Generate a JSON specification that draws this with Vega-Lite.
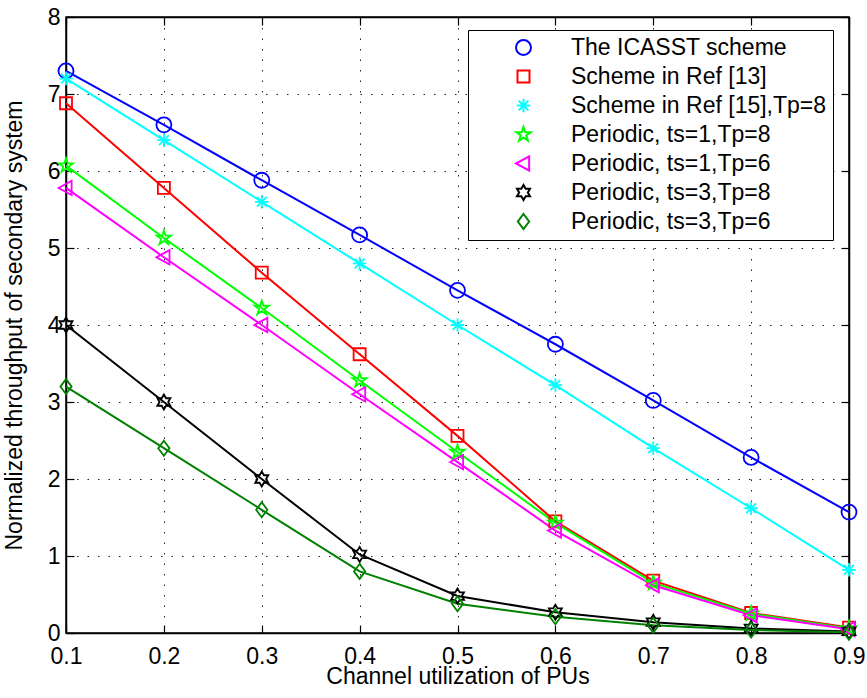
{
  "$schema": "https://vega.github.io/schema/vega-lite/v6.json",
  "width": 783,
  "height": 616,
  "autosize": "none",
  "padding": {"left": 66, "top": 17, "right": 18, "bottom": 65},
  "background": "white",
  "config": {
    "font": "Liberation Sans",
    "view": {"stroke": "black", "strokeWidth": 1.5},
    "axis": {
      "domainColor": "black",
      "domainWidth": 1.5,
      "tickColor": "black",
      "tickWidth": 1.2,
      "tickSize": -8,
      "labelFont": "Liberation Sans",
      "labelFontSize": 23,
      "labelColor": "black",
      "titleFont": "Liberation Sans",
      "titleFontSize": 23,
      "titleFontWeight": "normal",
      "titleColor": "black",
      "grid": true,
      "gridColor": "#222222",
      "gridDash": [1.5, 9],
      "gridWidth": 1,
      "gridOpacity": 1,
      "labelFlush": false,
      "labelOverlap": false
    },
    "legend": {
      "title": null, "orient": "none", "legendX": 402, "legendY": 13,
      "strokeColor": "black", "fillColor": "white", "padding": 6,
      "symbolSize": 225, "symbolOffset": 38, "labelOffset": 36,
      "symbolStrokeWidth": 2,
      "labelFont": "Liberation Sans", "labelFontSize": 23, "labelColor": "black",
      "rowPadding": 5, "labelLimit": 500
    }
  },
  "data": {
    "values": [
      {"x": 0.1, "s": "The ICASST scheme", "y": 7.3},
      {"x": 0.2, "s": "The ICASST scheme", "y": 6.6},
      {"x": 0.3, "s": "The ICASST scheme", "y": 5.88},
      {"x": 0.4, "s": "The ICASST scheme", "y": 5.17},
      {"x": 0.5, "s": "The ICASST scheme", "y": 4.45},
      {"x": 0.6, "s": "The ICASST scheme", "y": 3.75},
      {"x": 0.7, "s": "The ICASST scheme", "y": 3.02},
      {"x": 0.8, "s": "The ICASST scheme", "y": 2.28},
      {"x": 0.9, "s": "The ICASST scheme", "y": 1.57},
      {"x": 0.1, "s": "Scheme in Ref [13]", "y": 6.88},
      {"x": 0.2, "s": "Scheme in Ref [13]", "y": 5.78},
      {"x": 0.3, "s": "Scheme in Ref [13]", "y": 4.68},
      {"x": 0.4, "s": "Scheme in Ref [13]", "y": 3.62},
      {"x": 0.5, "s": "Scheme in Ref [13]", "y": 2.56},
      {"x": 0.6, "s": "Scheme in Ref [13]", "y": 1.45},
      {"x": 0.7, "s": "Scheme in Ref [13]", "y": 0.68},
      {"x": 0.8, "s": "Scheme in Ref [13]", "y": 0.26},
      {"x": 0.9, "s": "Scheme in Ref [13]", "y": 0.07},
      {"x": 0.1, "s": "Scheme in Ref [15],Tp=8", "y": 7.2},
      {"x": 0.2, "s": "Scheme in Ref [15],Tp=8", "y": 6.4},
      {"x": 0.3, "s": "Scheme in Ref [15],Tp=8", "y": 5.6},
      {"x": 0.4, "s": "Scheme in Ref [15],Tp=8", "y": 4.8},
      {"x": 0.5, "s": "Scheme in Ref [15],Tp=8", "y": 4.0},
      {"x": 0.6, "s": "Scheme in Ref [15],Tp=8", "y": 3.22},
      {"x": 0.7, "s": "Scheme in Ref [15],Tp=8", "y": 2.4},
      {"x": 0.8, "s": "Scheme in Ref [15],Tp=8", "y": 1.62},
      {"x": 0.9, "s": "Scheme in Ref [15],Tp=8", "y": 0.82},
      {"x": 0.1, "s": "Periodic, ts=1,Tp=8", "y": 6.07},
      {"x": 0.2, "s": "Periodic, ts=1,Tp=8", "y": 5.13},
      {"x": 0.3, "s": "Periodic, ts=1,Tp=8", "y": 4.22},
      {"x": 0.4, "s": "Periodic, ts=1,Tp=8", "y": 3.28},
      {"x": 0.5, "s": "Periodic, ts=1,Tp=8", "y": 2.35},
      {"x": 0.6, "s": "Periodic, ts=1,Tp=8", "y": 1.43},
      {"x": 0.7, "s": "Periodic, ts=1,Tp=8", "y": 0.65},
      {"x": 0.8, "s": "Periodic, ts=1,Tp=8", "y": 0.25},
      {"x": 0.9, "s": "Periodic, ts=1,Tp=8", "y": 0.06},
      {"x": 0.1, "s": "Periodic, ts=1,Tp=6", "y": 5.78},
      {"x": 0.2, "s": "Periodic, ts=1,Tp=6", "y": 4.88},
      {"x": 0.3, "s": "Periodic, ts=1,Tp=6", "y": 4.0},
      {"x": 0.4, "s": "Periodic, ts=1,Tp=6", "y": 3.1},
      {"x": 0.5, "s": "Periodic, ts=1,Tp=6", "y": 2.22},
      {"x": 0.6, "s": "Periodic, ts=1,Tp=6", "y": 1.33},
      {"x": 0.7, "s": "Periodic, ts=1,Tp=6", "y": 0.62},
      {"x": 0.8, "s": "Periodic, ts=1,Tp=6", "y": 0.23},
      {"x": 0.9, "s": "Periodic, ts=1,Tp=6", "y": 0.05},
      {"x": 0.1, "s": "Periodic, ts=3,Tp=8", "y": 4.0},
      {"x": 0.2, "s": "Periodic, ts=3,Tp=8", "y": 3.0},
      {"x": 0.3, "s": "Periodic, ts=3,Tp=8", "y": 2.0},
      {"x": 0.4, "s": "Periodic, ts=3,Tp=8", "y": 1.02},
      {"x": 0.5, "s": "Periodic, ts=3,Tp=8", "y": 0.48},
      {"x": 0.6, "s": "Periodic, ts=3,Tp=8", "y": 0.27},
      {"x": 0.7, "s": "Periodic, ts=3,Tp=8", "y": 0.14},
      {"x": 0.8, "s": "Periodic, ts=3,Tp=8", "y": 0.06},
      {"x": 0.9, "s": "Periodic, ts=3,Tp=8", "y": 0.02},
      {"x": 0.1, "s": "Periodic, ts=3,Tp=6", "y": 3.2},
      {"x": 0.2, "s": "Periodic, ts=3,Tp=6", "y": 2.4},
      {"x": 0.3, "s": "Periodic, ts=3,Tp=6", "y": 1.6},
      {"x": 0.4, "s": "Periodic, ts=3,Tp=6", "y": 0.8},
      {"x": 0.5, "s": "Periodic, ts=3,Tp=6", "y": 0.38},
      {"x": 0.6, "s": "Periodic, ts=3,Tp=6", "y": 0.21},
      {"x": 0.7, "s": "Periodic, ts=3,Tp=6", "y": 0.1},
      {"x": 0.8, "s": "Periodic, ts=3,Tp=6", "y": 0.04},
      {"x": 0.9, "s": "Periodic, ts=3,Tp=6", "y": 0.01}
    ]
  },
  "layer": [
    {
      "mark": {"type": "line", "strokeWidth": 2, "clip": false},
      "encoding": {
        "x": {
          "field": "x", "type": "quantitative",
          "scale": {"domain": [0.1, 0.9], "nice": false, "zero": false},
          "axis": {"orient": "bottom", "title": "Channel utilization of PUs", "values": [0.1, 0.2, 0.3, 0.4, 0.5, 0.6, 0.7, 0.8, 0.9], "format": ".1f", "labelPadding": 20, "titlePadding": -3}
        },
        "y": {
          "field": "y", "type": "quantitative",
          "scale": {"domain": [0, 8], "nice": false},
          "axis": {"orient": "left", "title": "Normalized throughput of secondary system", "values": [0, 1, 2, 3, 4, 5, 6, 7, 8], "labelPadding": 14, "titlePadding": 21}
        },
        "color": {
          "field": "s", "type": "nominal",
          "scale": {
            "domain": ["The ICASST scheme", "Scheme in Ref [13]", "Scheme in Ref [15],Tp=8", "Periodic, ts=1,Tp=8", "Periodic, ts=1,Tp=6", "Periodic, ts=3,Tp=8", "Periodic, ts=3,Tp=6"],
            "range": ["#0000FF", "#FF0000", "#00FFFF", "#00FF00", "#FF00FF", "#000000", "#008000"]
          }
        },
        "detail": {"field": "s"}
      }
    },
    {
      "mark": {"type": "point", "filled": false, "size": 225, "strokeWidth": 1.8, "opacity": 1, "clip": false},
      "encoding": {
        "x": {"field": "x", "type": "quantitative", "axis": {"orient": "top", "labels": false, "title": null, "grid": false, "values": [0.1, 0.2, 0.3, 0.4, 0.5, 0.6, 0.7, 0.8, 0.9]}},
        "y": {"field": "y", "type": "quantitative", "axis": {"orient": "right", "labels": false, "title": null, "grid": false, "values": [0, 1, 2, 3, 4, 5, 6, 7, 8]}},
        "color": {
          "field": "s", "type": "nominal",
          "legend": {
            "encode": {
              "symbols": {
                "update": {
                  "shape": {"signal": "'M-5,0H5' + scale('shape', datum.value)"},
                  "fill": {"value": "transparent"},
                  "strokeWidth": {"value": 2}
                }
              }
            }
          }
        },
        "shape": {
          "field": "s", "type": "nominal",
          "legend": null,
          "scale": {
            "domain": ["The ICASST scheme", "Scheme in Ref [13]", "Scheme in Ref [15],Tp=8", "Periodic, ts=1,Tp=8", "Periodic, ts=1,Tp=6", "Periodic, ts=3,Tp=8", "Periodic, ts=3,Tp=6"],
            "range": [
              "M1,0A1,1 0 1,1 -1,0A1,1 0 1,1 1,0Z",
              "M-0.8,-0.8H0.8V0.8H-0.8Z",
              "M-0.9,0H0.9M0,-0.9V0.9M-0.65,-0.65L0.65,0.65M-0.65,0.65L0.65,-0.65",
              "M0,-1L0.225,-0.309L0.951,-0.309L0.363,0.118L0.588,0.809L0,0.382L-0.588,0.809L-0.363,0.118L-0.951,-0.309L-0.225,-0.309Z",
              "M-1,0L0.75,-0.95L0.75,0.95Z",
              "M0,-1L0.289,-0.5L0.866,-0.5L0.577,0L0.866,0.5L0.289,0.5L0,1L-0.289,0.5L-0.866,0.5L-0.577,0L-0.866,-0.5L-0.289,-0.5Z",
              "M0,-1L0.75,0L0,1L-0.75,0Z"
            ]
          }
        }
      }
    }
  ]
}
